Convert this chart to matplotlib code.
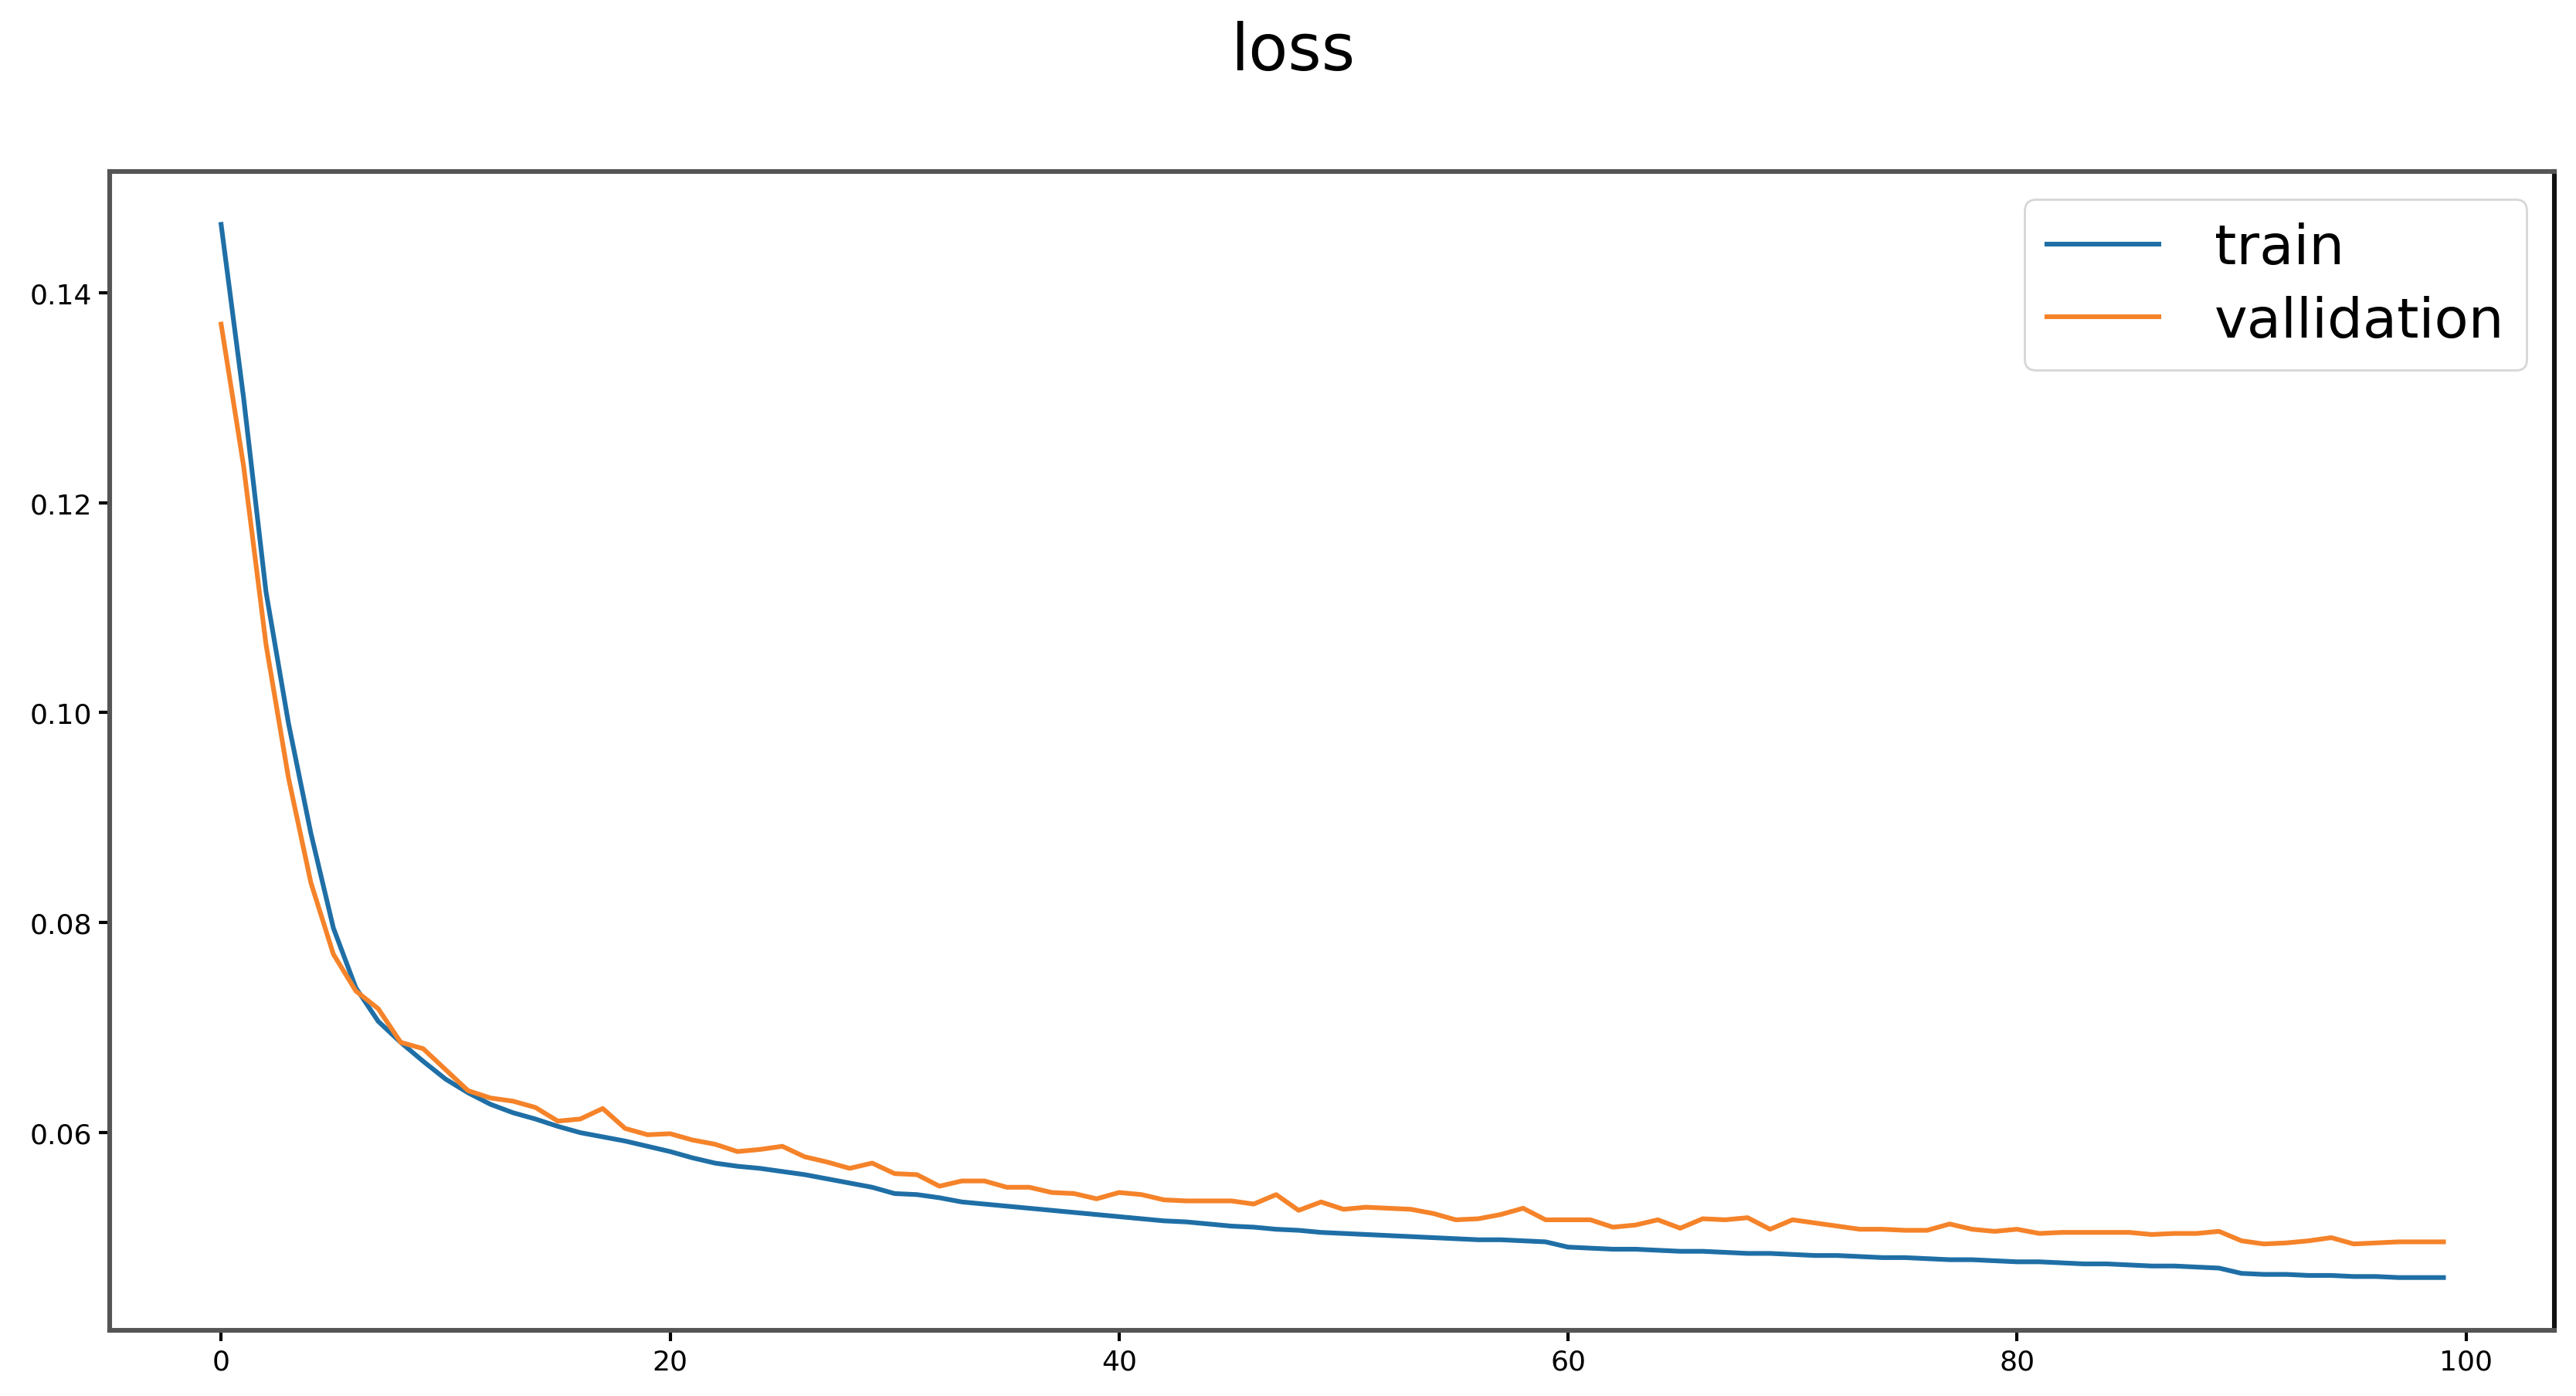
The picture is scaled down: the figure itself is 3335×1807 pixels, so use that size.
import matplotlib.pyplot as plt
import numpy as np

# loss values (epochs 0..99)
train_loss = [
    0.1465, 0.1300, 0.1115, 0.0990, 0.0885, 0.0795, 0.0738, 0.0706, 0.0686, 0.0668,
    0.0651, 0.0638, 0.0627, 0.0619, 0.0613, 0.0606, 0.0600, 0.0596, 0.0592, 0.0587,
    0.0582, 0.0576, 0.0571, 0.0568, 0.0566, 0.0563, 0.0560, 0.0556, 0.0552, 0.0548,
    0.0542, 0.0541, 0.0538, 0.0534, 0.0532, 0.0530, 0.0528, 0.0526, 0.0524, 0.0522,
    0.0520, 0.0518, 0.0516, 0.0515, 0.0513, 0.0511, 0.0510, 0.0508, 0.0507, 0.0505,
    0.0504, 0.0503, 0.0502, 0.0501, 0.0500, 0.0499, 0.0498, 0.0498, 0.0497, 0.0496,
    0.0491, 0.0490, 0.0489, 0.0489, 0.0488, 0.0487, 0.0487, 0.0486, 0.0485, 0.0485,
    0.0484, 0.0483, 0.0483, 0.0482, 0.0481, 0.0481, 0.0480, 0.0479, 0.0479, 0.0478,
    0.0477, 0.0477, 0.0476, 0.0475, 0.0475, 0.0474, 0.0473, 0.0473, 0.0472, 0.0471,
    0.0466, 0.0465, 0.0465, 0.0464, 0.0464, 0.0463, 0.0463, 0.0462, 0.0462, 0.0462,
]
val_loss = [
    0.1370, 0.1235, 0.1065, 0.0938, 0.0838, 0.0770, 0.0735, 0.0718, 0.0686, 0.0680,
    0.0660, 0.0640, 0.0633, 0.0630, 0.0624, 0.0611, 0.0613, 0.0623, 0.0604, 0.0598,
    0.0599, 0.0593, 0.0589, 0.0582, 0.0584, 0.0587, 0.0577, 0.0572, 0.0566, 0.0571,
    0.0561, 0.0560, 0.0549, 0.0554, 0.0554, 0.0548, 0.0548, 0.0543, 0.0542, 0.0537,
    0.0543, 0.0541, 0.0536, 0.0535, 0.0535, 0.0535, 0.0532, 0.0541, 0.0526, 0.0534,
    0.0527, 0.0529, 0.0528, 0.0527, 0.0523, 0.0517, 0.0518, 0.0522, 0.0528, 0.0517,
    0.0517, 0.0517, 0.0510, 0.0512, 0.0517, 0.0509, 0.0518, 0.0517, 0.0519, 0.0508,
    0.0517, 0.0514, 0.0511, 0.0508, 0.0508, 0.0507, 0.0507, 0.0513, 0.0508, 0.0506,
    0.0508, 0.0504, 0.0505, 0.0505, 0.0505, 0.0505, 0.0503, 0.0504, 0.0504, 0.0506,
    0.0497, 0.0494, 0.0495, 0.0497, 0.0500, 0.0494, 0.0495, 0.0496, 0.0496, 0.0496,
]
labels = ['train', 'vallidation']

epochs = np.arange(len(train_loss))

fig = plt.figure(figsize=(16.675, 9.04), dpi=200)
ax = fig.add_axes([0.0427, 0.0471, 0.949, 0.8294])

ax.plot(epochs, train_loss, color='#1f6fa6', lw=2.2, label=labels[0])
ax.plot(epochs, val_loss, color='#f5832a', lw=2.2, label=labels[1])

fig.suptitle('loss', fontsize=30, x=0.502, y=0.985)
ax.legend(fontsize=26, loc='upper right', handlelength=2.0,
          handletextpad=1.0, labelspacing=0.35)

ax.set_yticks([0.06, 0.08, 0.10, 0.12, 0.14])
ax.set_xticks([0, 20, 40, 60, 80, 100])
ax.tick_params(labelsize=13, length=5, width=1.5)
for side in ['left', 'bottom', 'top']:
    ax.spines[side].set_color('#555555')
    ax.spines[side].set_linewidth(2.2)
ax.spines['right'].set_color('#111111')
ax.spines['right'].set_linewidth(2.2)

fig.savefig('out.png', dpi=200)
